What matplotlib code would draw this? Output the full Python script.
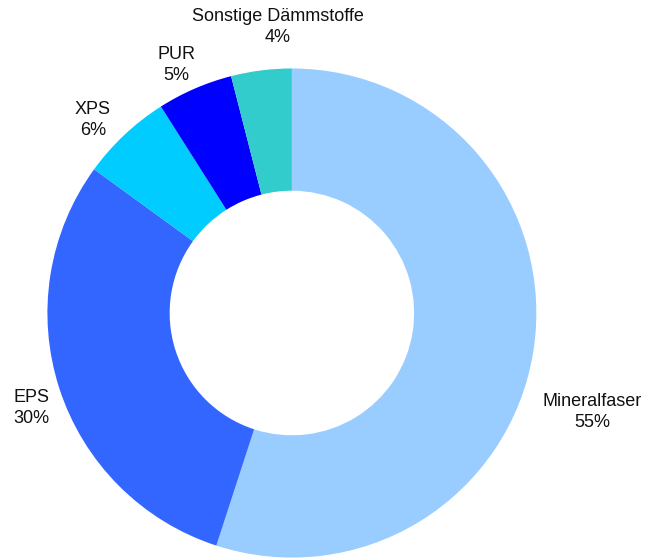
import matplotlib
matplotlib.use("Agg")
import matplotlib.pyplot as plt

# Dämmstoffe market share
labels = ["Mineralfaser", "EPS", "XPS", "PUR", "Sonstige Dämmstoffe"]
shares = [55, 30, 6, 5, 4]
colors = ["#99CCFF", "#3366FF", "#00CCFF", "#0000FF", "#33CCCC"]

# label anchor positions (data units, radius = 1)
label_pos = [(1.229, -0.405), (-1.067, -0.39), (-0.814, 0.791), (-0.472, 1.014), (-0.057, 1.168)]

plt.rcParams["font.family"] = ["Liberation Sans", "DejaVu Sans"]

fig = plt.figure(figsize=(6.51, 5.60), dpi=100)
ax = fig.add_axes([0, 0, 1, 1])

wedges, _ = ax.pie(shares, colors=colors, startangle=90, counterclock=False,
                   radius=1.0, wedgeprops=dict(width=0.5, linewidth=0))

for lab, val, (x, y) in zip(labels, shares, label_pos):
    ax.text(x, y, f"{lab}\n{val}%", ha="center", va="center",
            fontsize=13, linespacing=1.3, color="#111111")

ax.set_xlim(-1.194, 1.469)
ax.set_ylim(-1.010, 1.280)
ax.set_aspect("auto")
ax.axis("off")

fig.savefig("out.png", dpi=100, facecolor="white")
